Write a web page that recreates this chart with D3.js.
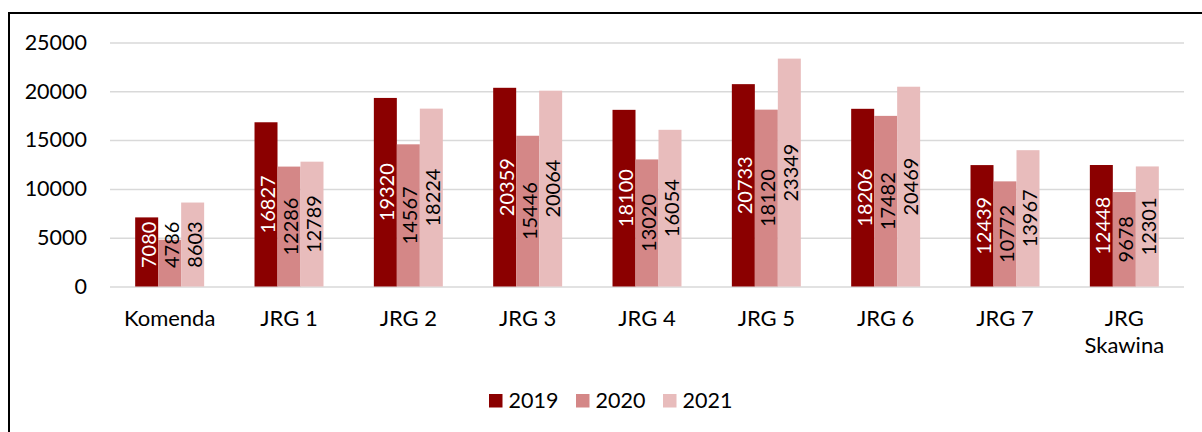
<!DOCTYPE html>
<html><head><meta charset="utf-8">
<script src="https://cdn.jsdelivr.net/npm/d3@7"></script>
<style>html,body{margin:0;padding:0;background:#fff;}svg{display:block;}</style>
</head><body>
<svg id="chart" width="1202" height="432"></svg>
<script>
const categories = [["Komenda"],["JRG 1"],["JRG 2"],["JRG 3"],["JRG 4"],["JRG 5"],["JRG 6"],["JRG 7"],["JRG","Skawina"]];
const seriesNames = ["2019","2020","2021"];
const values2019 = [7080,16827,19320,20359,18100,20733,18206,12439,12448];
const values2020 = [4786,12286,14567,15446,13020,18120,17482,10772,9678];
const values2021 = [8603,12789,18224,20064,16054,23349,20469,13967,12301];
const yTicks = [0,5000,10000,15000,20000,25000];
const colors = ["#8b0000","#d48787","#e8bcbc"];
const labelColors = ["#ffffff","#000000","#000000"];

const series = [values2019, values2020, values2021];
const font = "Lato, 'Open Sans', sans-serif";

const svg = d3.select("#chart");
const x0 = 110, x1 = 1184, yTop = 42.5, yBase = 286.5;

const y = d3.scaleLinear().domain([0,25000]).range([yBase, yTop]);
const x = d3.scaleBand().domain(d3.range(categories.length)).range([x0,x1]).paddingInner(0.422).paddingOuter(0.211);
const xs = d3.scaleBand().domain(d3.range(series.length)).range([0, x.bandwidth()]);

// border
svg.append("rect").attr("x",9).attr("y",13).attr("width",1300).attr("height",600)
  .attr("fill","none").attr("stroke","#000").attr("stroke-width",2);

// gridlines
const yAxis = d3.axisLeft(y).tickValues(yTicks).tickSize(-(x1-x0)).tickFormat(d3.format("d"));
const ga = svg.append("g").attr("transform",`translate(${x0},0)`).call(yAxis);
ga.select(".domain").remove();
ga.selectAll(".tick line").attr("stroke","#d9d9d9").attr("stroke-width",1.5);
ga.selectAll(".tick text").attr("x",-23).attr("font-family",font).attr("font-size",21.5).attr("fill","#000");

// bars
series.forEach((vals, si) => {
  const g = svg.append("g");
  g.selectAll("rect").data(vals).join("rect")
    .attr("x",(d,i)=>x(i)+xs(si))
    .attr("y",d=>y(d))
    .attr("width",xs.bandwidth())
    .attr("height",d=>yBase-y(d))
    .attr("fill",colors[si]);
  g.selectAll("text").data(vals).join("text")
    .attr("font-family",font).attr("font-size",20).attr("fill",labelColors[si])
    .attr("text-anchor","middle").attr("dominant-baseline","central")
    .text(d=>d)
    .attr("transform",function(d,i){
      const cx = x(i)+xs(si)+xs.bandwidth()/2 + 1;
      const half = this.getComputedTextLength()/2;
      let cy = (y(d)+yBase)/2;
      cy = Math.min(cy, yBase-18.5-half);
      return `translate(${cx},${cy}) rotate(-90)`;
    });
});

// x labels
const gx = svg.append("g");
categories.forEach((lines,i)=>{
  const t = gx.append("text").attr("x",x(i)+x.bandwidth()/2).attr("y",325.5)
    .attr("text-anchor","middle").attr("font-family",font).attr("font-size",22).attr("fill","#000");
  lines.forEach((l,li)=>t.append("tspan").attr("x",x(i)+x.bandwidth()/2).attr("dy",li===0?0:27).text(l));
});

// legend
const legX = [489, 576, 663];
seriesNames.forEach((n,i)=>{
  svg.append("rect").attr("x",legX[i]).attr("y",394).attr("width",13.5).attr("height",13.5).attr("fill",colors[i]);
  svg.append("text").attr("x",legX[i]+19.5).attr("y",408).attr("font-family",font).attr("font-size",21.5).attr("fill","#000").text(n);
});
</script>
</body></html>
